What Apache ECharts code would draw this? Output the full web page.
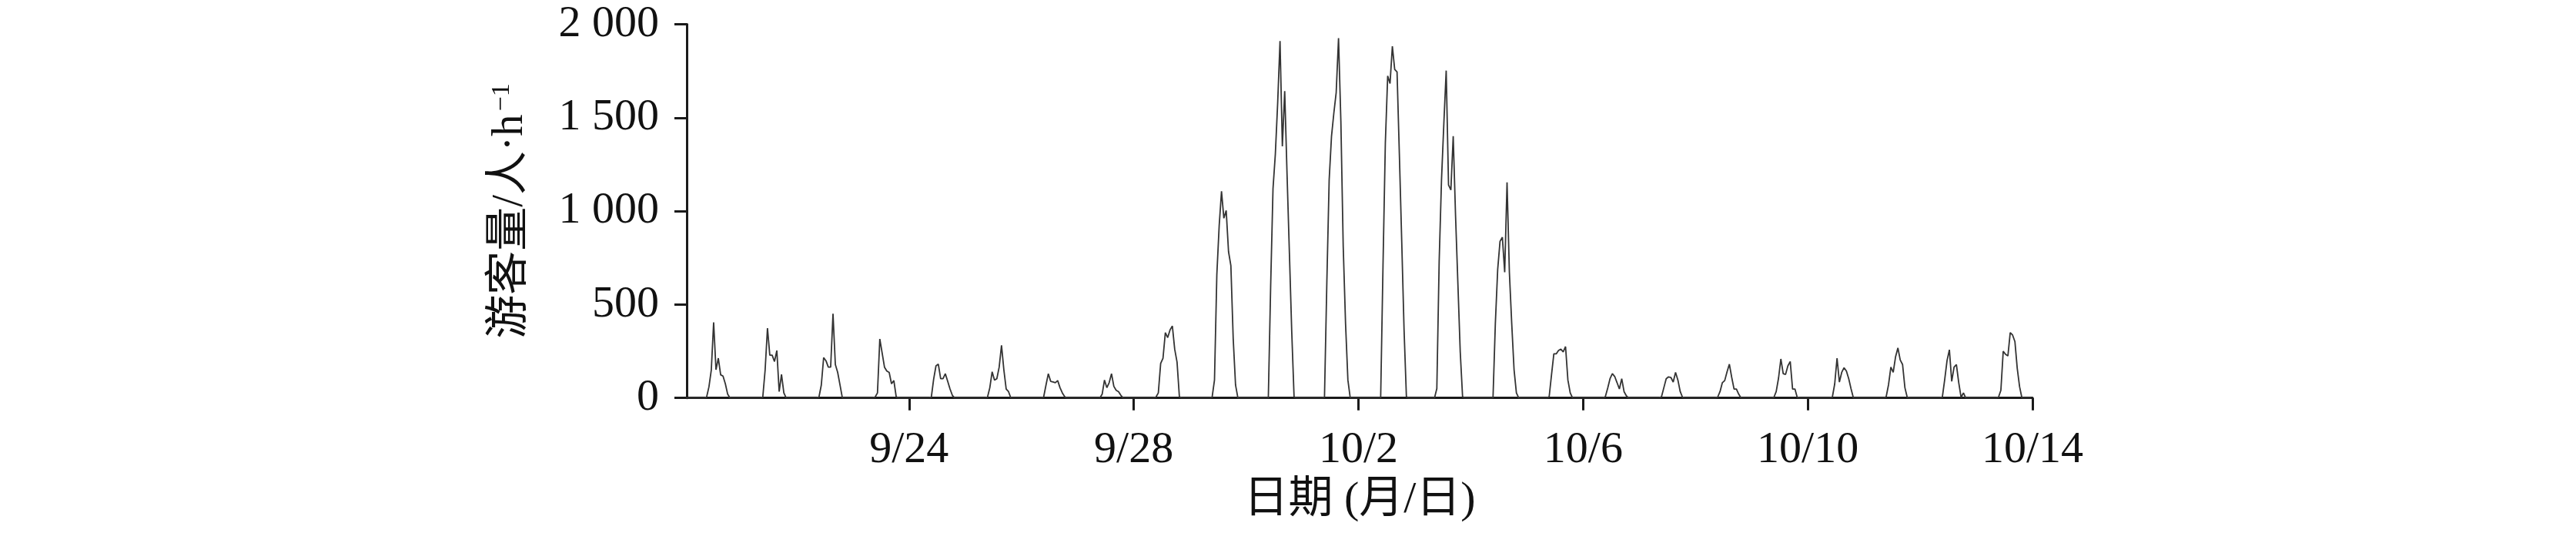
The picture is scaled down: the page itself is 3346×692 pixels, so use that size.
<!DOCTYPE html>
<html><head><meta charset="utf-8">
<script src="https://cdn.jsdelivr.net/npm/echarts@6/dist/echarts.min.js"></script>
<style>html,body{margin:0;padding:0;background:#fff}#c{width:3346px;height:692px}</style>
</head><body><div id="c"></div>
<script>
// Hourly visitor flow (人/h), one array per day, hours 0..23
const dayLabels = ['9/20','9/21','9/22','9/23','9/24','9/25','9/26','9/27','9/28','9/29','9/30',
  '10/1','10/2','10/3','10/4','10/5','10/6','10/7','10/8','10/9','10/10','10/11','10/12','10/13'];
const v0920 = [0,0,0,0,0,0,0,0,0, 5,60,150,405,151,213,124,117,76,20,0,0, 0,0,0];
const v0921 = [0,0,0,0,0,0,0,0,0, 5,150,374,229,229,195,254,34,126,27,0,0, 0,0,0];
const v0922 = [0,0,0,0,0,0,0,0,0, 5,69,216,199,165,165,451,179,137,69,0,0, 0,0,0];
const v0923 = [0,0,0,0,0,0,0,0,0, 5,27,316,240,165,144,137,76,93,7,0,0, 0,0,0];
const v0924 = [0,0,0,0,0,0,0,0,0, 3,100,172,181,103,103,130,89,48,14,0,0, 0,0,0];
const v0925 = [0,0,0,0,0,0,0,0,0, 4,55,140,96,103,165,282,151,48,34,0,0, 0,0,0];
const v0926 = [0,0,0,0,0,0,0,0,0, 5,69,130,89,86,82,93,55,27,7,0,0, 0,0,0];
const v0927 = [0,0,0,0,0,0,0,0,0, 0,20,96,55,82,130,62,41,34,14,0,0, 0,0,0];
const v0928 = [0,0,0,0,0,0,0,0,0, 5,27,185,213,350,323,364,385,261,192,7,0, 0,0,0];
const v0929 = [0,0,0,0,0,0,0,0,0, 5,96,660,921,1106,962,1003,783,708,316,69,0, 0,0,0];
const v0930 = [0,0,0,0,0,0,0,0,0, 0,600,1120,1305,1580,1910,1347,1642,1197,779,357,7, 0,0,0];
const v1001 = [0,0,0,0,0,0,0,0,0, 5,617,1168,1401,1525,1635,1926,1480,811,398,96,0, 0,0,0];
const v1002 = [0,0,0,0,0,0,0,0,0, 0,708,1364,1724,1683,1882,1758,1745,1300,839,364,7, 0,0,0];
const v1003 = [0,0,0,0,0,0,0,0,0, 50,732,1168,1470,1752,1140,1113,1401,975,611,247,7, 0,0,0];
const v1004 = [0,0,0,0,0,0,0,0,0, 0,398,687,838,860,673,1154,673,398,151,27,0, 0,0,0];
const v1005 = [0,0,0,0,0,0,0,0,0, 7,124,236,236,254,261,247,275,96,27,0,0, 0,0,0];
const v1006 = [0,0,0,0,0,0,0,0,0, 7,52,103,130,115,82,48,103,34,11,0,0, 0,0,0];
const v1007 = [0,0,0,0,0,0,0,0,0, 7,55,103,113,110,85,137,96,34,3,0,0, 0,0,0];
const v1008 = [0,0,0,0,0,0,0,0,0, 5,34,82,93,140,181,110,48,48,20,0,0, 0,0,0];
const v1009 = [0,0,0,0,0,0,0,0,0, 3,34,106,209,130,126,172,195,48,48,3,0, 0,0,0];
const v1010 = [0,0,0,0,0,0,0,0,0, 0,5,75,213,85,137,162,144,103,48,0,0, 0,0,0];
const v1011 = [0,0,0,0,0,0,0,0,0, 7,71,165,137,220,268,203,179,55,3,0,0, 0,0,0];
const v1012 = [0,0,0,0,0,0,0,0,0, 5,98,200,258,89,165,179,82,3,27,0,0, 0,0,0];
const v1013 = [0,0,0,0,0,0,0,0,0, 5,41,250,234,225,350,337,302,158,60,0,0, 0,0,0];

const days = [v0920,v0921,v0922,v0923,v0924,v0925,v0926,v0927,v0928,v0929,v0930,
  v1001,v1002,v1003,v1004,v1005,v1006,v1007,v1008,v1009,v1010,v1011,v1012,v1013];

// x ticks in hours since 9/20 00:00
const xTickValues = [96,192,288,384,480,576];
const xTickLabels = ['9/24','9/28','10/2','10/6','10/10','10/14'];
const yTickValues = [0,500,1000,1500,2000];
const yTickLabels = ['0','500','1 000','1 500','2 000'];

const seriesData = [];
days.forEach((arr, d) => arr.forEach((v, h) => seriesData.push([d * 24 + h + 0.5, v])));

const FONT = "'Liberation Serif','DejaVu Serif','Noto Sans CJK SC',serif";
const chart = echarts.init(document.getElementById('c'), null, {renderer: 'canvas'});
chart.setOption({
  animation: false,
  backgroundColor: '#fff',
  grid: {left: 892, right: 706, top: 31.5, bottom: 175.3, containLabel: false},
  xAxis: {
    type: 'value', min: 1, max: 576,
    axisLine: {show: true, lineStyle: {color: '#1a1a1a', width: 3}},
    axisTick: {show: true, customValues: xTickValues, length: 16, lineStyle: {color: '#1a1a1a', width: 3}},
    axisLabel: {customValues: xTickValues, formatter: v => xTickLabels[xTickValues.indexOf(v)],
      fontSize: 58, fontFamily: FONT, color: '#111', margin: 39},
    splitLine: {show: false},
    name: '日期 (月/日)', nameLocation: 'middle', nameGap: 104,
    nameTextStyle: {fontSize: 58, fontFamily: FONT, color: '#111'}
  },
  yAxis: {
    type: 'value', min: 0, max: 2000, interval: 500,
    axisLine: {show: true, lineStyle: {color: '#1a1a1a', width: 3}},
    axisTick: {show: true, length: 16, lineStyle: {color: '#1a1a1a', width: 3}},
    axisLabel: {formatter: v => yTickLabels[yTickValues.indexOf(v)],
      fontSize: 58, fontFamily: FONT, color: '#111', margin: 36},
    splitLine: {show: false},
    name: '{m|游客量/人·h}{s|−1}', nameLocation: 'middle', nameRotate: 90, nameGap: 200,
    nameTextStyle: {fontSize: 57, fontFamily: FONT, color: '#111',
      rich: {
        m: {fontSize: 57, fontFamily: FONT, color: '#111'},
        s: {fontSize: 34, fontFamily: FONT, color: '#111', verticalAlign: 'top', padding: [0, 0, 0, 4]}
      }}
  },
  series: [{
    type: 'line', data: seriesData, showSymbol: false, symbol: 'none',
    lineStyle: {color: '#333', width: 1.8}, z: 1
  }]
});
</script></body></html>
